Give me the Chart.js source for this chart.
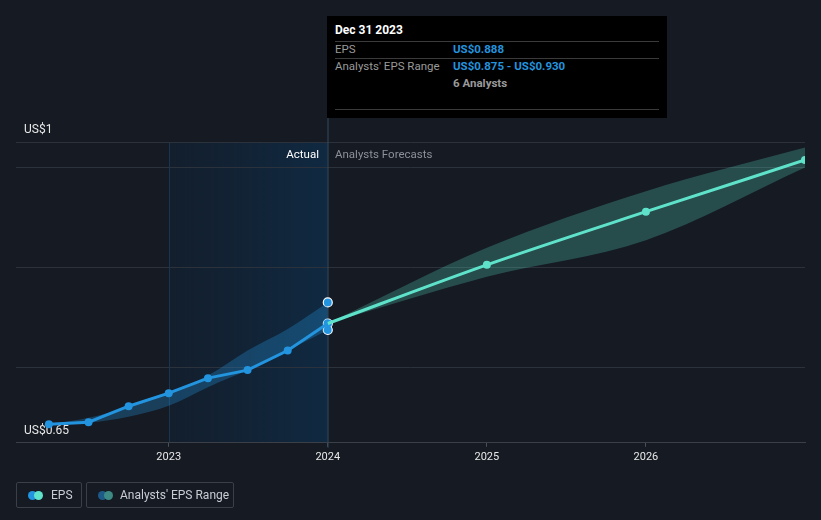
<!DOCTYPE html>
<html>
<head>
<meta charset="utf-8">
<script src="https://cdn.jsdelivr.net/npm/chart.js@4"></script>
<style>
  html, body { margin: 0; padding: 0; background: #151a23; }
  #wrap { position: relative; width: 821px; height: 520px; font-family: Roboto, "Open Sans", sans-serif; }
  #eps-chart { position: absolute; left: 0; top: 0; }
  .abs { position: absolute; white-space: nowrap; }
  #tip { left: 327px; top: 16px; width: 340px; height: 102px; background: #000; }
  .rule { position: absolute; left: 8px; width: 324px; height: 1px; background: #3b3b3b; }
  .lbl { color: #9a9a9a; font-size: 11.5px; }
  .val { color: #2394df; font-size: 11.5px; font-weight: bold; }
  .legend-box { position: absolute; top: 482px; height: 26px; border: 1px solid #3a3f4a; border-radius: 2px; box-sizing: border-box; }
  .legend-box span.t { position: absolute; top: 5px; color: #c9cdd3; font-size: 12px; }
  .dot { position: absolute; top: 8px; width: 9px; height: 9px; border-radius: 50%; }
</style>
</head>
<body>
<div id="wrap">
  <canvas id="eps-chart" width="821" height="520"></canvas>

  <div id="tip" class="abs">
    <div class="abs" style="left:8px; top:7px; color:#fff; font-size:12px; font-weight:bold;">Dec 31 2023</div>
    <div class="rule" style="top:25px;"></div>
    <div class="abs lbl" style="left:8px; top:26px;">EPS</div>
    <div class="abs val" style="left:126px; top:26px;">US$0.888</div>
    <div class="rule" style="top:42px;"></div>
    <div class="abs lbl" style="left:8px; top:43px;">Analysts' EPS Range</div>
    <div class="abs val" style="left:126px; top:43px;">US$0.875 - US$0.930</div>
    <div class="abs lbl" style="left:126px; top:60px; font-weight:bold;">6 Analysts</div>
    <div class="rule" style="top:93px;"></div>
  </div>

  <div class="abs" style="right:502px; top:147px; color:#fff; font-size:11.5px;">Actual</div>
  <div class="abs" style="left:335px; top:147px; color:#8b9099; font-size:11.5px;">Analysts Forecasts</div>

  <div class="legend-box" style="left:16px; width:66px;">
    <div class="dot" style="left:11px; background:#2394df;"></div>
    <div class="dot" style="left:17px; background:#5fe3cb;"></div>
    <span class="t" style="left:34px;">EPS</span>
  </div>
  <div class="legend-box" style="left:86px; width:148px;">
    <div class="dot" style="left:11px; background:#1e5a88;"></div>
    <div class="dot" style="left:17px; background:#3d8a84;"></div>
    <span class="t" style="left:33px;">Analysts' EPS Range</span>
  </div>
</div>

<script>
// actual EPS, quarterly
const actualDates = ['2022-03-31', '2022-06-30', '2022-09-30', '2022-12-31', '2023-03-31', '2023-06-30', '2023-09-30', '2023-12-31'];
const actualEps   = [0.687, 0.691, 0.723, 0.749, 0.779, 0.795, 0.834, 0.888];
const actualLow   = [0.687, 0.690, 0.702, 0.724, 0.761, 0.795, 0.834, 0.875];
const actualHigh  = [0.687, 0.700, 0.722, 0.749, 0.784, 0.834, 0.877, 0.930];

// analysts forecasts
const forecastDates = ['2023-12-31', '2024-12-31', '2025-12-31', '2026-12-31'];
const forecastEps   = [0.888, 1.005, 1.111, 1.214];
const forecastLow   = [0.888, 0.981, 1.054, 1.199];
const forecastHigh  = [0.888, 1.039, 1.152, 1.239];

// hovered point at Dec 31 2023
const hoverDate = '2023-12-31';
const hoverValues = [0.930, 0.888, 0.875];

const yearTicks = [2023, 2024, 2025, 2026];
const yGrid = [0.65, 0.8, 1.0, 1.2, 1.25];
const yLabels = { '1.25': 'US$1', '0.65': 'US$0.65' };

function toYear(d) {
  const dt = new Date(d + 'T00:00:00Z');
  const y = dt.getUTCFullYear();
  const start = Date.UTC(y, 0, 1), end = Date.UTC(y + 1, 0, 1);
  return y + (dt - start + 86400000) / (end - start);
}

function pts(dates, vals) {
  return dates.map((d, i) => ({ x: toYear(d), y: vals[i] }));
}

const highlightPlugin = {
  id: 'highlight',
  beforeDraw(chart) {
    const { ctx, chartArea: a, scales: { x } } = chart;
    const x0 = x.getPixelForValue(2023), x1 = x.getPixelForValue(toYear(hoverDate));
    const g = ctx.createLinearGradient(x0, 0, x1, 0);
    g.addColorStop(0, 'rgba(18,34,52,0.6)');
    g.addColorStop(1, 'rgba(16,42,66,1)');
    ctx.save();
    ctx.fillStyle = g;
    ctx.fillRect(x0, a.top, x1 - x0, a.bottom - a.top);
    ctx.fillStyle = '#1b3450';
    ctx.fillRect(Math.round(x0), a.top, 1, a.bottom - a.top);
    ctx.restore();
  },
  beforeDatasetsDraw(chart) {
    const { ctx, chartArea: a, scales: { x } } = chart;
    const xh = Math.round(x.getPixelForValue(toYear(hoverDate)));
    ctx.save();
    ctx.fillStyle = '#34485e';
    ctx.fillRect(xh - 0.5, 117, 1, a.bottom - 117 + 5);
    ctx.restore();
  }
};

const ctx = document.getElementById('eps-chart').getContext('2d');
new Chart(ctx, {
  type: 'line',
  data: {
    datasets: [
      {
        data: pts(actualDates, actualHigh),
        borderWidth: 0, pointRadius: 0,
        backgroundColor: 'rgba(35,148,223,0.3)',
        fill: '+1', cubicInterpolationMode: 'monotone'
      },
      {
        data: pts(actualDates, actualLow),
        borderWidth: 0, pointRadius: 0, fill: false,
        cubicInterpolationMode: 'monotone'
      },
      {
        data: pts(forecastDates, forecastHigh),
        borderWidth: 0, pointRadius: 0,
        backgroundColor: 'rgba(93,226,201,0.25)',
        fill: '+1', cubicInterpolationMode: 'monotone'
      },
      {
        data: pts(forecastDates, forecastLow),
        borderWidth: 0, pointRadius: 0, fill: false,
        cubicInterpolationMode: 'monotone'
      },
      {
        data: pts(forecastDates, forecastEps),
        borderColor: '#5fe3cb', borderWidth: 3,
        pointRadius: [0, 4, 4, 4], pointBackgroundColor: '#5fe3cb', pointBorderWidth: 0,
        fill: false, cubicInterpolationMode: 'monotone'
      },
      {
        data: pts(actualDates, actualEps),
        borderColor: '#2394df', borderWidth: 3,
        pointRadius: 4, pointBackgroundColor: '#2394df', pointBorderWidth: 0,
        fill: false, tension: 0
      },
      {
        data: hoverValues.map(v => ({ x: toYear(hoverDate), y: v })),
        showLine: false,
        pointRadius: 4.5, pointBackgroundColor: '#2394df',
        pointBorderColor: '#ffffff', pointBorderWidth: 1.2
      }
    ]
  },
  options: {
    responsive: false,
    animation: false,
    events: [],
    layout: { padding: { left: 0, right: 16, top: 142, bottom: 52 } },
    plugins: { legend: { display: false }, tooltip: { enabled: false } },
    scales: {
      x: {
        type: 'linear',
        min: 2022.04,
        max: 2027.0,
        afterBuildTicks: s => { s.ticks = yearTicks.map(v => ({ value: v })); },
        grid: { drawOnChartArea: false, drawTicks: true, tickLength: 4, color: '#4a4f58' },
        border: { display: true, color: '#3a3f48' },
        ticks: {
          padding: 4, color: '#e8e8e8',
          font: { family: 'Roboto', size: 11 },
          callback: v => String(v)
        }
      },
      y: {
        min: 0.65,
        max: 1.25,
        afterBuildTicks: s => { s.ticks = yGrid.map(v => ({ value: v })); },
        grid: { color: '#2c323c', drawTicks: false },
        border: { display: false },
        ticks: {
          mirror: true, padding: 8, labelOffset: -12,
          color: '#e8e8e8',
          font: { family: 'Roboto', size: 12 },
          callback: v => yLabels[String(v)] || ''
        }
      }
    }
  },
  plugins: [highlightPlugin]
});
</script>
</body>
</html>
